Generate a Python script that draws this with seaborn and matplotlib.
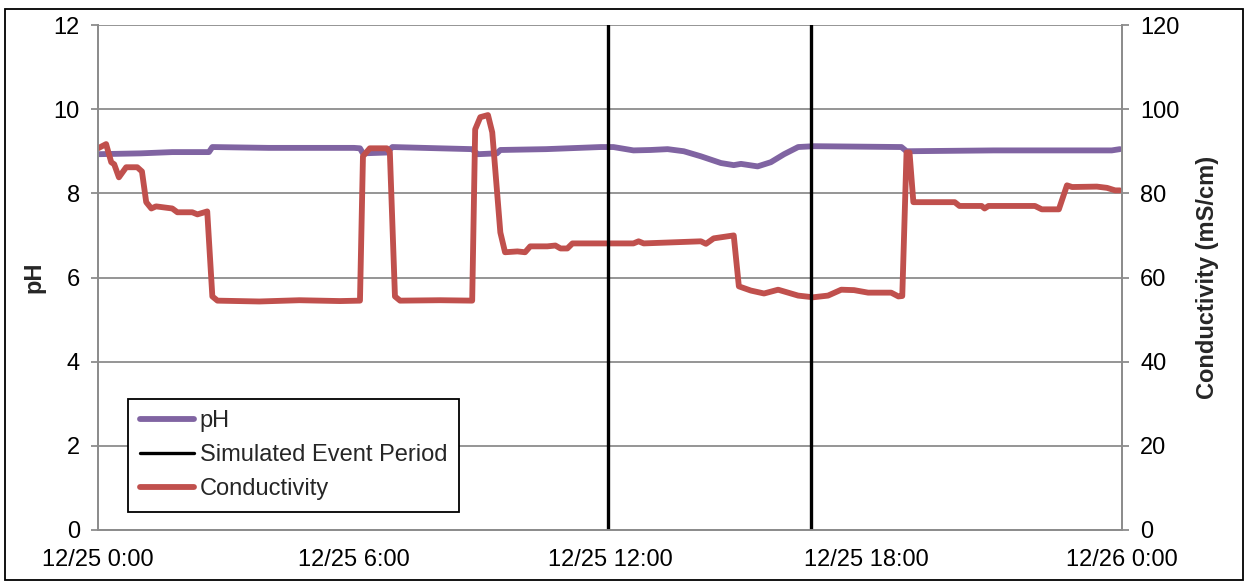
import pandas as pd
import numpy as np
import matplotlib
matplotlib.use("Agg")
import matplotlib.pyplot as plt
import matplotlib.dates as mdates
from matplotlib.ticker import FuncFormatter, MultipleLocator
from matplotlib.patches import Rectangle
import seaborn as sns

start = pd.Timestamp("2012-12-25 00:00")

# pH trace (hours after 12/25 0:00, pH)
ph_hours = [0.0, 1.0, 1.74, 2.6, 2.68, 4.0, 6.0, 6.14, 6.21, 6.77, 6.9, 8.0, 8.77,
            8.9, 9.35, 9.43, 10.5, 11.78, 12.08, 12.55, 12.95, 13.35, 13.73, 14.13,
            14.6, 14.9, 15.07, 15.46, 15.77, 16.08, 16.41, 16.78, 18.83, 18.95,
            21.0, 23.76, 23.95]
ph_values = [8.93, 8.95, 8.98, 8.98, 9.1, 9.08, 9.08, 9.07, 8.95, 8.97, 9.1, 9.07, 9.05,
             8.93, 8.95, 9.03, 9.05, 9.1, 9.1, 9.02, 9.03, 9.05, 9.0, 8.88,
             8.72, 8.67, 8.7, 8.64, 8.74, 8.93, 9.1, 9.12, 9.1, 9.0,
             9.02, 9.02, 9.05]

# conductivity trace (hours after 12/25 0:00, mS/cm)
cond_hours = [0.0, 0.19, 0.31, 0.38, 0.49, 0.66, 0.92, 1.03, 1.13, 1.25, 1.36, 1.74,
              1.86, 2.21, 2.33, 2.56, 2.68, 2.8, 3.78, 4.72, 5.67, 6.14, 6.21, 6.37,
              6.77, 6.84, 6.96, 7.08, 8.02, 8.77, 8.84, 8.96, 9.14, 9.24, 9.43, 9.54,
              9.83, 10.01, 10.13, 10.53, 10.72, 10.84, 11.0, 11.12, 12.55, 12.67, 12.79,
              14.13, 14.25, 14.43, 14.9, 15.02, 15.3, 15.61, 15.94, 16.41, 16.76, 17.11,
              17.42, 17.72, 18.05, 18.59, 18.76, 18.85, 18.95, 19.02, 19.11, 20.08,
              20.19, 20.71, 20.78, 20.87, 21.96, 22.12, 22.52, 22.71, 22.83, 23.41,
              23.65, 23.84, 23.95]
cond_values = [90.7, 91.7, 87.4, 86.9, 83.8, 86.2, 86.2, 85.2, 77.9, 76.4, 76.9, 76.4,
               75.5, 75.5, 75.0, 75.7, 55.5, 54.5, 54.3, 54.6, 54.4, 54.5, 88.8, 90.7,
               90.7, 89.8, 55.5, 54.5, 54.6, 54.5, 95.2, 98.1, 98.6, 94.5, 70.7, 66.0,
               66.2, 66.0, 67.4, 67.4, 67.6, 66.9, 66.9, 68.1, 68.1, 68.6, 68.1,
               68.6, 68.0, 69.3, 70.0, 57.9, 56.9, 56.2, 57.1, 55.7, 55.3, 55.7,
               57.1, 57.0, 56.4, 56.4, 55.5, 55.6, 89.7, 89.7, 77.9, 77.9,
               77.0, 77.0, 76.4, 77.0, 77.0, 76.2, 76.2, 81.9, 81.5, 81.6,
               81.3, 80.7, 80.7]

# simulated event period boundaries (hours)
event_hours = [11.95, 16.72]

ph_df = pd.DataFrame({"Time": start + pd.to_timedelta(ph_hours, unit="h"), "pH": ph_values})
cond_df = pd.DataFrame({"Time": start + pd.to_timedelta(cond_hours, unit="h"),
                        "Conductivity": cond_values})
event_times = start + pd.to_timedelta(event_hours, unit="h")

sns.set_theme(style="white")
plt.rcParams["font.family"] = ["Liberation Sans", "DejaVu Sans"]

purple = "#8064A2"
red = "#C0504D"
grey = "#8C8C8C"
fs = 17

fig = plt.figure(figsize=(12.46, 5.82), dpi=100)
ax = fig.add_axes([98 / 1246, 52 / 582, 1024 / 1246, 505 / 582])
ax2 = ax.twinx()

sns.lineplot(data=ph_df, x="Time", y="pH", ax=ax, color=purple, linewidth=4.2, label="pH",
             legend=False)
sns.lineplot(data=cond_df, x="Time", y="Conductivity", ax=ax2, color=red, linewidth=4.2,
             label="Conductivity", legend=False)
for i, t in enumerate(event_times):
    ax2.axvline(t, color="black", linewidth=2.4,
                label="Simulated Event Period" if i == 0 else None)

ax.set_xlim(start, start + pd.Timedelta(hours=24))
ax.set_ylim(0, 12)
ax2.set_ylim(0, 120)
ax.yaxis.set_major_locator(MultipleLocator(2))
ax2.yaxis.set_major_locator(MultipleLocator(20))
ax.xaxis.set_major_locator(mdates.HourLocator(byhour=[0, 6, 12, 18]))


def fmt_time(x, pos):
    d = mdates.num2date(x)
    return f"{d.month}/{d.day} {d.hour}:{d.minute:02d}"


ax.xaxis.set_major_formatter(FuncFormatter(fmt_time))

ax.grid(axis="y", color=grey, linewidth=1.3)
ax.grid(axis="x", visible=False)
ax2.grid(False)

for a in (ax, ax2):
    a.spines["top"].set_visible(False)
    for s in ("left", "right", "bottom"):
        a.spines[s].set_color(grey)
        a.spines[s].set_linewidth(1.3)
    a.tick_params(axis="both", which="major", direction="out", length=5, width=1.3,
                  color=grey, labelsize=fs, labelcolor="black", pad=8)
ax.tick_params(axis="x", pad=9)

ax.set_xlabel("")
ax.set_ylabel("pH", fontsize=fs, fontweight="bold", labelpad=6)
ax2.set_ylabel("Conductivity (mS/cm)", fontsize=fs, fontweight="bold", labelpad=12)

h1, l1 = ax.get_legend_handles_labels()
h2, l2 = ax2.get_legend_handles_labels()
handles = dict(zip(l1 + l2, h1 + h2))
order = ["pH", "Simulated Event Period", "Conductivity"]
leg = ax2.legend([handles[k] for k in order], order, loc="lower left",
                 bbox_to_anchor=(0.029, 0.036), borderaxespad=0, fontsize=fs,
                 frameon=True, fancybox=False, edgecolor="black", handlelength=2.3,
                 handletextpad=0.25, labelspacing=0.5, borderpad=0.5)
leg.get_frame().set_linewidth(1.3)
leg.get_frame().set_alpha(1)

fig.add_artist(Rectangle((5 / 1246, 2 / 582), 1238 / 1246, 571 / 582,
                         transform=fig.transFigure, fill=False, edgecolor="black",
                         linewidth=1.3))

fig.savefig("out.png", dpi=100)
